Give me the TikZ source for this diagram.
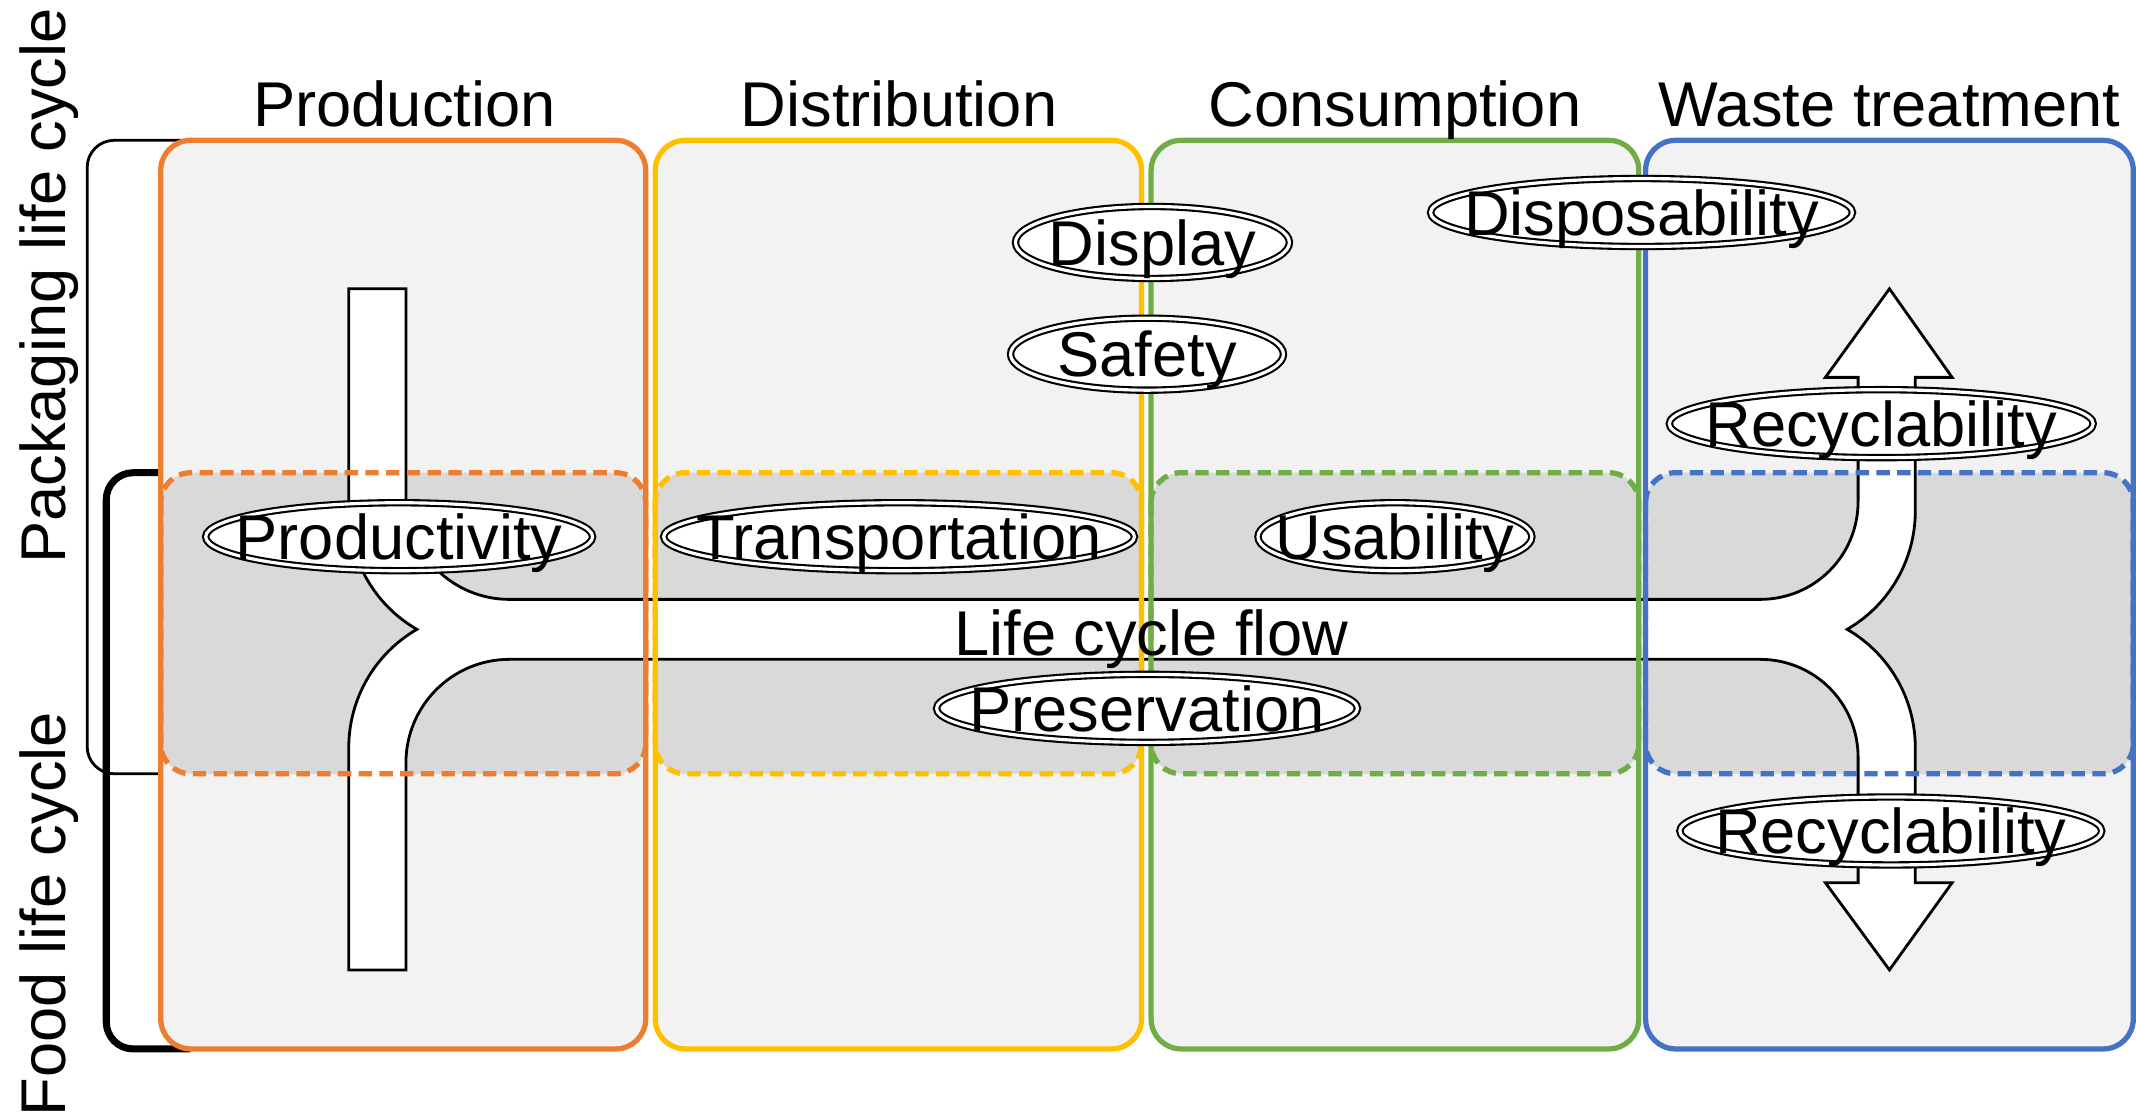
\documentclass[tikz,border=0pt]{standalone}
\usepackage{fontspec}
\setmainfont{Liberation Sans}
\usepackage{tikz}
\usepackage{xcolor}
\usetikzlibrary{shapes.geometric}

\definecolor{prodc}{HTML}{ED7D31}
\definecolor{distc}{HTML}{FFC000}
\definecolor{consc}{HTML}{70AD47}
\definecolor{wastc}{HTML}{4472C4}
\definecolor{stagefill}{HTML}{F2F2F2}
\definecolor{bandfill}{HTML}{D9D9D9}

% label inside an ellipse, kept from widening it
\newcommand{\flbl}[1]{\smash{\makebox[0pt]{\raisebox{-0.36em}{#1}}}}

\begin{document}
\begin{tikzpicture}[x=0.013622cm, y=-0.013622cm,
  font=\fontsize{18}{21}\selectfont,
  stage/.style={draw=#1, line width=1.5pt, rounded corners=0.3cm},
  overlap/.style={draw=#1, line width=1.5pt, dash pattern=on 3.8pt off 2.1pt, rounded corners=0.3cm},
  factor/.style={ellipse, draw, double, double distance=0.9pt, line width=0.6pt, fill=white, inner sep=0pt, minimum height=0.68cm},
  flow/.style={draw, fill=white, line width=0.8pt}]
\useasboundingbox (0,0) rectangle (1568,821);

% Life cycle brackets
\draw[line width=0.8pt, rounded corners=0.27cm] (140,103) -- (64,103) -- (64,568) -- (140,568);
\draw[line width=2pt, rounded corners=0.27cm] (140,347) -- (78,347) -- (78,770) -- (140,770);

% Stage boxes
\fill[stagefill, rounded corners=0.3cm] (118,103) rectangle (474,770);
\fill[stagefill, rounded corners=0.3cm] (481,103) rectangle (838,770);
\fill[stagefill, rounded corners=0.3cm] (845,103) rectangle (1203,770);
\fill[stagefill, rounded corners=0.3cm] (1208,103) rectangle (1566,770);

% Overlap of both life cycles
\fill[bandfill, rounded corners=0.3cm] (118,347) rectangle (474,568);
\fill[bandfill, rounded corners=0.3cm] (481,347) rectangle (838,568);
\fill[bandfill, rounded corners=0.3cm] (845,347) rectangle (1203,568);
\fill[bandfill, rounded corners=0.3cm] (1208,347) rectangle (1566,568);

% Flow: merge on the left, split into two arrows on the right
\draw[flow] (256,212) -- (298,212) -- (298,364)
  .. controls (298,406) and (332,440) .. (374,440) -- (1292,440)
  .. controls (1332,440) and (1364,408) .. (1364,368) -- (1364,277)
  -- (1340,277) -- (1387,212) -- (1433,277) -- (1406,277) -- (1406,375)
  .. controls (1406,411) and (1387,444) .. (1356,462)
  .. controls (1387,480) and (1406,513) .. (1406,549) -- (1406,648)
  -- (1433,648) -- (1387,712) -- (1340,648) -- (1364,648) -- (1364,556)
  .. controls (1364,516) and (1332,484) .. (1292,484) -- (374,484)
  .. controls (332,484) and (298,518) .. (298,560) -- (298,712)
  -- (256,712) -- (256,549)
  .. controls (256,513) and (275,480) .. (306,462)
  .. controls (275,444) and (256,411) .. (256,375) -- cycle;

% Borders on top
\draw[overlap=prodc] (118,347) rectangle (474,568);
\draw[overlap=distc] (481,347) rectangle (838,568);
\draw[overlap=consc] (845,347) rectangle (1203,568);
\draw[overlap=wastc] (1208,347) rectangle (1566,568);
\draw[stage=prodc] (118,103) rectangle (474,770);
\draw[stage=distc] (481,103) rectangle (838,770);
\draw[stage=consc] (845,103) rectangle (1203,770);
\draw[stage=wastc] (1208,103) rectangle (1566,770);

% Titles
\node[anchor=base] (tprod) at (297,93) {Production};
\node[anchor=base] (tdist) at (660,93) {Distribution};
\node[anchor=base] (tcons) at (1024,93) {Consumption};
\node[anchor=base] (twaste) at (1387,93) {Waste treatment};
\node[rotate=90] (pack) at (36,210) {Packaging life cycle};
\node[rotate=90] (food) at (36,671) {Food life cycle};
\node[anchor=base] (lcf) at (845,481) {Life cycle flow};

% Factors
\node[factor, minimum width=3.87cm] (prod) at (293,394) {\flbl{Productivity}};
\node[factor, minimum width=4.71cm] (trans) at (660,394) {\flbl{Transportation}};
\node[factor, minimum width=2.74cm] (usab) at (1024,394) {\flbl{Usability}};
\node[factor, minimum width=2.74cm, minimum height=0.72cm] (disp) at (846,178) {\flbl{Display}};
\node[factor, minimum width=2.73cm, minimum height=0.72cm] (safe) at (842,260) {\flbl{Safety}};
\node[factor, minimum width=4.22cm] (dispo) at (1205,156) {\flbl{Disposability}};
\node[factor, minimum width=4.24cm] (recup) at (1381,311) {\flbl{Recyclability}};
\node[factor, minimum width=4.21cm] (pres) at (842,520) {\flbl{Preservation}};
\node[factor, minimum width=4.22cm] (recdn) at (1388,610) {\flbl{Recyclability}};
\end{tikzpicture}
\end{document}
